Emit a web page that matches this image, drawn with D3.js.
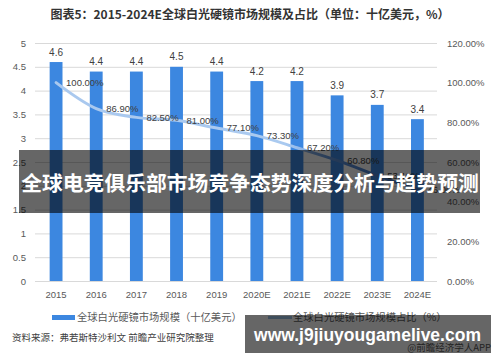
<!DOCTYPE html>
<html><head><meta charset="utf-8">
<script src="https://cdn.jsdelivr.net/npm/d3@7"></script>
<style>body{margin:0;background:#fff}svg{display:block}</style>
</head><body>
<svg id="c" width="500" height="362"></svg>
<script>
const years = ["2015","2016","2017","2018","2019","2020E","2021E","2022E","2023E","2024E"];
const marketSize = [4.6,4.4,4.4,4.5,4.4,4.2,4.2,3.9,3.7,3.4];
const shareValues = [100.0,86.9,82.5,81.0,77.1,73.3,67.2,60.8,53.1,46.0];
const leftTicks = [0,0.5,1,1.5,2,2.5,3,3.5,4,4.5,5];
const rightTicks = [0,20,40,60,80,100,120];
const titleText = "图表5：2015-2024E全球白光硬镜市场规模及占比（单位：十亿美元，%）";
const legendBar = "全球白光硬镜市场规模（十亿美元）";
const legendLine = "全球白光硬镜市场规模占比（%）";
const sourceText = "资料来源：弗若斯特沙利文 前瞻产业研究院整理";
const creditText = "@前瞻经济学人APP";
const bannerText = "全球电竞俱乐部市场竞争态势深度分析与趋势预测";
const siteText = "www.j9jiuyougamelive.com";

const svg = d3.select("#c");
const cjk = "'Noto Sans CJK SC','Noto Sans',sans-serif";
const lat = "'Liberation Sans',Arial,sans-serif";
const L = 35, R = 437, T = 43, B = 281;

const x = d3.scaleBand().domain(years).range([36, 437.5]).padding(0);
const yL = d3.scaleLinear().domain([0,5]).range([B,T]);
const yR = d3.scaleLinear().domain([0,120]).range([B,T]);

const defs = svg.append("defs");
const grad = defs.append("linearGradient").attr("id","lg").attr("gradientUnits","userSpaceOnUse")
  .attr("x1", x(years[0])).attr("x2", x(years[years.length-1]) + x.bandwidth()).attr("y1",0).attr("y2",0);
grad.append("stop").attr("offset","0%").attr("stop-color","#a9c8ee");
grad.append("stop").attr("offset","62%").attr("stop-color","#aacaf0");
grad.append("stop").attr("offset","75%").attr("stop-color","#5b8fd8");
grad.append("stop").attr("offset","100%").attr("stop-color","#3a6fc0");

svg.append("text").attr("x",250).attr("y",15).attr("text-anchor","middle").attr("dy","0.35em")
  .style("font-family",cjk).style("font-size","12px").style("font-weight","bold").attr("fill","#333")
  .text(titleText);

const gl = svg.append("g").attr("transform",`translate(${L},0)`)
  .call(d3.axisLeft(yL).tickValues(leftTicks).tickSize(-(R-L)).tickPadding(9).tickFormat(d3.format("")));
gl.select(".domain").remove();
gl.selectAll(".tick line").attr("stroke","#d9d9d9");
gl.selectAll(".tick text").attr("fill","#595959").style("font-family",lat).style("font-size","9.5px");

const gr = svg.append("g").attr("transform",`translate(${R},0)`)
  .call(d3.axisRight(yR).tickValues(rightTicks).tickSize(0).tickPadding(10).tickFormat(d => d.toFixed(2)+"%"));
gr.select(".domain").remove();
gr.selectAll(".tick text").attr("fill","#595959").style("font-family",lat).style("font-size","9.5px");

const gx = svg.append("g").attr("transform",`translate(0,${B})`)
  .call(d3.axisBottom(x).tickSize(0).tickPadding(10));
gx.select(".domain").remove();
gx.selectAll(".tick text").attr("fill","#595959").style("font-family",lat).style("font-size","9.5px");

const bw = x.bandwidth()*0.32;
svg.append("g").selectAll("rect").data(marketSize).join("rect")
  .attr("x",(d,i)=>x(years[i])+x.bandwidth()/2-bw/2)
  .attr("y",d=>yL(d)).attr("width",bw).attr("height",d=>B-yL(d))
  .attr("fill","#3c87e0");
svg.append("g").selectAll("text").data(marketSize).join("text")
  .attr("x",(d,i)=>x(years[i])+x.bandwidth()/2).attr("y",d=>yL(d)-6.5)
  .attr("text-anchor","middle").attr("fill","#404040")
  .style("font-family",lat).style("font-size","10px").text(d=>d.toFixed(1));

const line = d3.line().x((d,i)=>x(years[i])+x.bandwidth()/2).y(d=>yR(d)).curve(d3.curveMonotoneX);
svg.append("path").datum(shareValues).attr("d",line).attr("fill","none")
  .attr("stroke","url(#lg)").attr("stroke-width",3).attr("stroke-linecap","round").attr("stroke-linejoin","round");
svg.append("g").selectAll("text").data(shareValues).join("text")
  .attr("x",(d,i)=>x(years[i])+x.bandwidth()/2+10).attr("y",d=>yR(d)).attr("dy","0.35em")
  .attr("fill","#404040").style("font-family",lat).style("font-size","9.5px")
  .text(d=>d.toFixed(2)+"%");

svg.append("rect").attr("x",52).attr("y",315).attr("width",23).attr("height",5).attr("fill","#3c87e0");
svg.append("text").attr("x",77).attr("y",317.5).attr("dy","0.35em").attr("fill","#595959")
  .style("font-family",cjk).style("font-size","10.3px").text(legendBar);
svg.append("line").attr("x1",268).attr("x2",292).attr("y1",317.5).attr("y2",317.5)
  .attr("stroke","#9dc3e6").attr("stroke-width",3);
svg.append("text").attr("x",293).attr("y",317.5).attr("dy","0.35em").attr("fill","#595959")
  .style("font-family",cjk).style("font-size","10.3px").text(legendLine);

svg.append("text").attr("x",12).attr("y",338).attr("dy","0.35em").attr("fill","#404040")
  .style("font-family",cjk).style("font-size","9.5px").text(sourceText);
svg.append("text").attr("x",491).attr("y",347.5).attr("dy","0.35em").attr("text-anchor","end").attr("fill","#595959")
  .style("font-family",cjk).style("font-size","9.5px").text(creditText);

svg.append("rect").attr("x",19).attr("y",150).attr("width",461).attr("height",63).attr("fill","rgba(0,0,0,0.6)");
svg.append("text").attr("x",250).attr("y",184).attr("dy","0.35em").attr("text-anchor","middle")
  .attr("fill","#fff").style("font-family",cjk).style("font-size","20.8px").style("font-weight","bold")
  .text(bannerText);
svg.append("rect").attr("x",245).attr("y",315).attr("width",246).attr("height",38).attr("fill","rgba(0,0,0,0.6)");
svg.append("text").attr("x",367.5).attr("y",341).attr("text-anchor","middle")
  .attr("fill","#fff").style("font-family",lat).style("font-size","17.5px").style("font-weight","bold")
  .text(siteText);
</script>
</body></html>
